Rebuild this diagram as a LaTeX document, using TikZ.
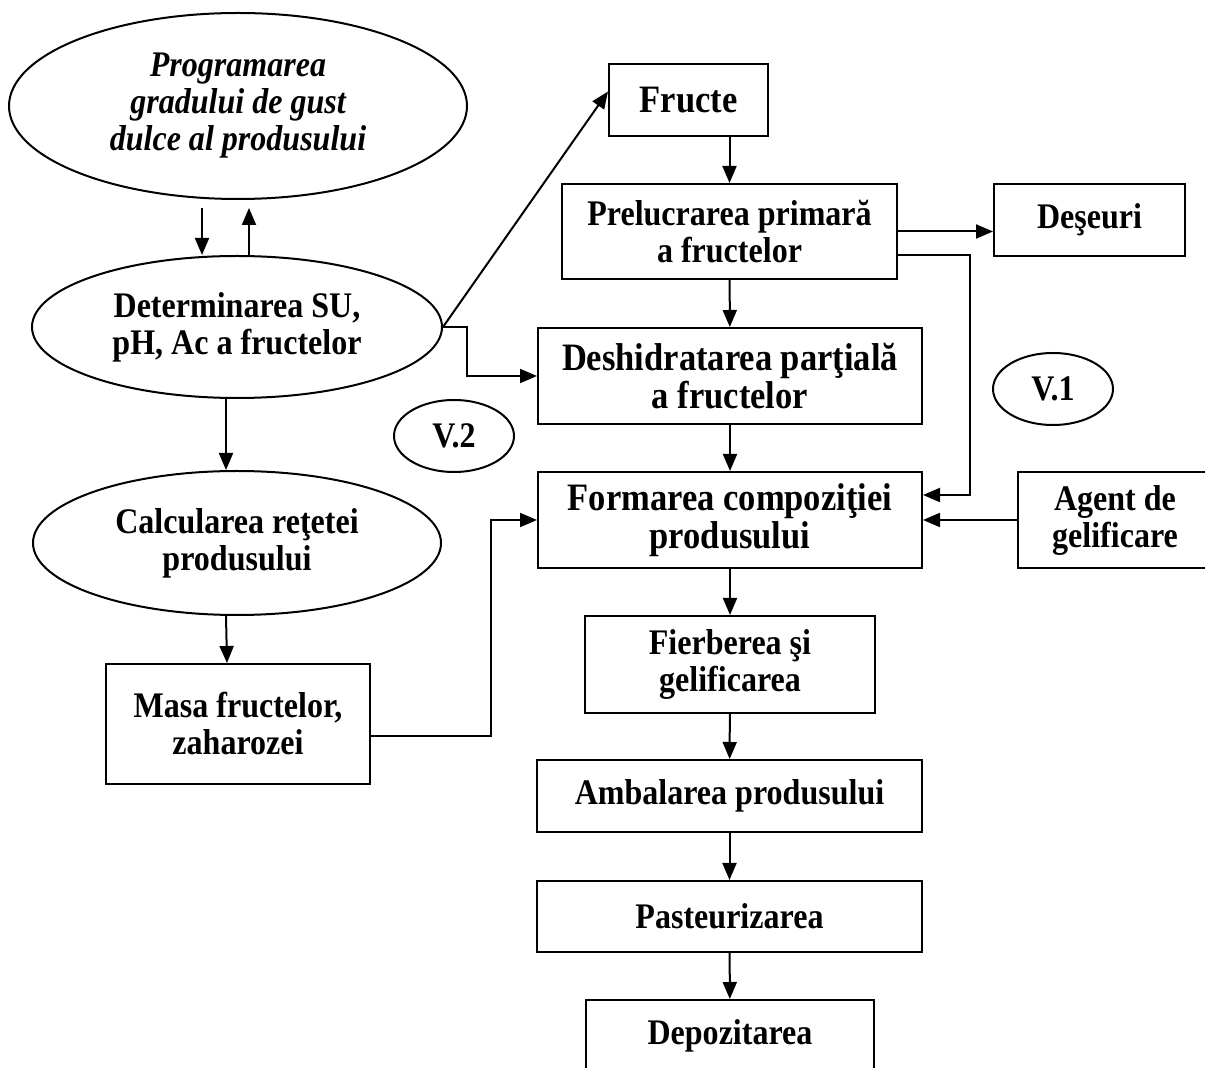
\documentclass[tikz,border=0pt]{standalone}
\usepackage{fontspec}
\setmainfont{Liberation Serif}[FakeStretch=0.89]
\usetikzlibrary{shapes.geometric,arrows.meta}

\begin{document}
\begin{tikzpicture}[x=0.5pt,y=-0.5pt,line width=1pt,
  >={Triangle[length=8.5pt,width=7pt]},
  box/.style={draw,rectangle,inner sep=2pt,align=center,
    font=\fontsize{18}{18.5}\selectfont\bfseries},
  big/.style={font=\fontsize{19.4}{18.8}\selectfont\bfseries},
  oval/.style={draw,ellipse,inner sep=0pt,align=center,
    font=\fontsize{18}{18.5}\selectfont\bfseries}]
\useasboundingbox (0,0) rectangle (1205,1068);

% left column: calculations
\node(programare) at (238,106)[oval,minimum width=229pt,minimum height=93pt,
  font=\fontsize{18}{18.5}\selectfont\bfseries\itshape]
  {Programarea\\gradului de gust\\dulce al produsului};
\node(determinare) at (237,327)[oval,minimum width=205pt,minimum height=71pt]
  {Determinarea SU,\\pH, Ac a fructelor};
\node(calculare) at (237,543)[oval,minimum width=204pt,minimum height=72pt]
  {Calcularea reţetei\\produsului};
\node(masa) at (238,724)[box,minimum width=132pt,minimum height=60pt]
  {Masa fructelor,\\zaharozei};

% main column: technology
\node(fructe) at (688.5,100)[box,big,minimum width=79.5pt,minimum height=36pt]{Fructe};
\node(prelucrare) at (729.5,231.5)[box,minimum width=167.5pt,minimum height=47.5pt]
  {Prelucrarea primară\\a fructelor};
\node(deseuri) at (1089.5,220)[box,minimum width=95.5pt,minimum height=36pt]{Deşeuri};
\node(deshidratare) at (730,376)[box,big,minimum width=192pt,minimum height=48pt]
  {Deshidratarea parţială\\a fructelor};
\node(formare) at (730,520)[box,big,minimum width=192pt,minimum height=48pt]
  {Formarea compoziţiei\\produsului};
\node(agent) at (1115,520)[box,minimum width=97pt,minimum height=48pt]
  {Agent de\\gelificare};
\node(fierbere) at (730,664.5)[box,minimum width=145pt,minimum height=48.5pt]
  {Fierberea şi\\gelificarea};
\node(ambalare) at (729.5,796)[box,minimum width=192.5pt,minimum height=36pt]
  {Ambalarea produsului};
\node(pasteurizare) at (729.5,916.5)[box,minimum width=192.5pt,minimum height=35.5pt]
  {Pasteurizarea};
\node(depozitare) at (730,1036)[box,minimum width=144pt,minimum height=36pt]
  {Depozitarea};

% variants
\node(v1) at (1053,389)[oval,minimum width=60pt,minimum height=36pt]{V.1};
\node(v2) at (454,436)[oval,minimum width=60pt,minimum height=36pt]{V.2};

% links between the ovals
\coordinate(jos) at (202,208);
\coordinate(sus) at (249,208);
\draw[->] (jos) -- (jos |- determinare.north);
\draw[->] (sus |- determinare.north) -- (sus);
\draw[->] ([xshift=-5.5pt]determinare.south) -- ([xshift=-5.5pt]calculare.north);
\draw[->] ([xshift=-5.5pt]calculare.south) -- ([xshift=-5.5pt]masa.north);

% V.2
\draw[->] (determinare.east) -- (fructe.174);
\draw[->] (determinare.east) -- ++(24,0) |- (deshidratare.west);
\draw[->] ([yshift=-6pt]masa.east) -- ++(120,0) |- (formare.west);

% main flow
\draw[->] (prelucrare.north |- fructe.south) -- (prelucrare.north);
\draw[->] (prelucrare.east) -- (prelucrare.east -| deseuri.west);
\draw[->] (prelucrare) -- (deshidratare);
\draw[->] (deshidratare) -- (formare);
\draw[->] (formare) -- (fierbere);
\draw[->] (fierbere) -- (ambalare);
\draw[->] (ambalare) -- (pasteurizare);
\draw[->] (pasteurizare) -- (depozitare);

% V.1
\draw[->] ([yshift=-12pt]prelucrare.east) -- ++(72,0) |- ([yshift=12.5pt]formare.east);
\draw[->] (agent.west) -- (formare.east);
\end{tikzpicture}
\end{document}
